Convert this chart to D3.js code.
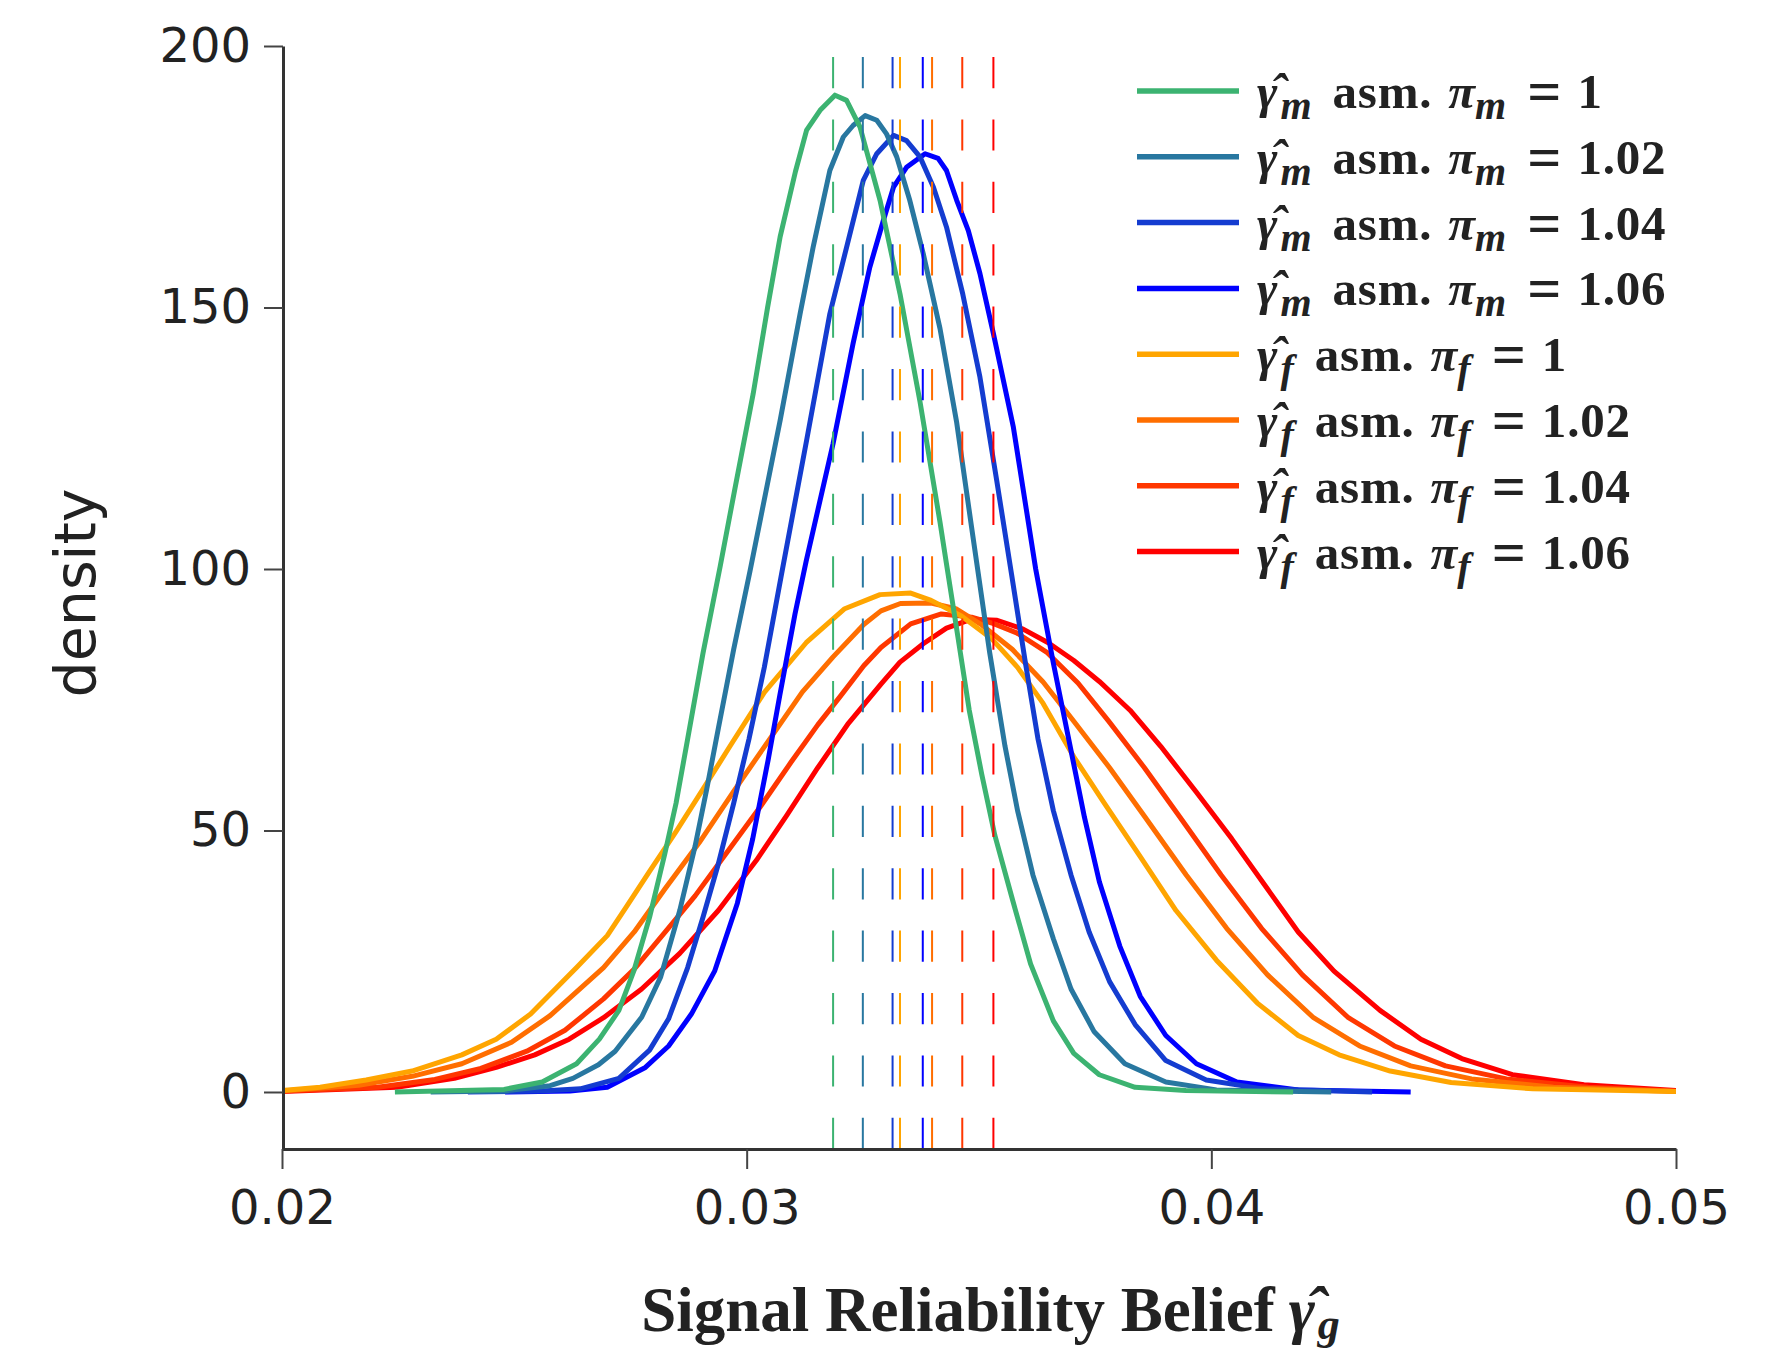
<!DOCTYPE html>
<html>
<head>
<meta charset="utf-8">
<script src="https://cdn.jsdelivr.net/npm/d3@7"></script>
<style>
  body { margin: 0; background: #fff; }
</style>
</head>
<body>
<div id="chart"></div>
<script>
const W = 1783, H = 1349;

const xTicks = [0.02, 0.03, 0.04, 0.05];
const yTicks = [0, 50, 100, 150, 200];

// legend order: m-series then f-series
const seriesSym = ["m", "m", "m", "m", "f", "f", "f", "f"];
const seriesPi = ["1", "1.02", "1.04", "1.06", "1", "1.02", "1.04", "1.06"];
const seriesColors = ["#3cb371", "#2877a0", "#143cd0", "#0000ff", "#ffa500", "#ff6e00", "#ff3700", "#ff0000"];

// dashed mean markers
const meansM = [0.03186, 0.0325, 0.03314, 0.03379];
const meansF = [0.0333, 0.03399, 0.03464, 0.03531];

// density curves [x, density]
const densM100 = [[0.02243,0],[0.02478,0.5],[0.0256,1.9],[0.02634,5.4],[0.02683,10.1],[0.02725,15.6],[0.02757,23.1],[0.02791,33.4],[0.02824,45.6],[0.02848,55.2],[0.02873,67.5],[0.02906,83.9],[0.02943,100.5],[0.02975,115.5],[0.03014,133.5],[0.03045,150],[0.03072,163.5],[0.03105,176],[0.03129,183.9],[0.03158,187.7],[0.0319,190.6],[0.03215,189.6],[0.03244,184.5],[0.03287,170.5],[0.0333,152.6],[0.03373,132],[0.03416,109],[0.0343,101],[0.03452,88.5],[0.03479,73],[0.03506,60.7],[0.03534,49.1],[0.03572,36.8],[0.03611,24.5],[0.0366,13.6],[0.03704,7.4],[0.03759,3.3],[0.03836,0.9],[0.03945,0.3],[0.04176,0]];
const densM102 = [[0.0232,0],[0.0248,0.2],[0.02577,1.2],[0.02626,2.6],[0.02681,5.2],[0.02717,7.8],[0.02774,14.3],[0.02815,22],[0.02856,34.7],[0.02889,47.0],[0.02914,57.9],[0.02939,69.5],[0.02972,84.6],[0.03007,99.5],[0.03072,128.4],[0.03115,148.8],[0.03143,161.5],[0.03179,176.2],[0.03208,182.6],[0.03229,184.8],[0.03255,186.7],[0.0328,185.8],[0.03301,183.2],[0.03323,178.8],[0.03351,170.5],[0.0338,160.3],[0.03416,146],[0.03452,128],[0.03484,108],[0.03523,84],[0.03556,66.1],[0.03583,53.8],[0.03616,41.5],[0.0366,29.3],[0.03698,19.7],[0.03748,11.5],[0.03814,5.4],[0.03902,1.9],[0.04011,0.4],[0.04258,0]];
const densM104 = [[0.024,0],[0.0256,0.2],[0.02642,0.6],[0.02725,2.6],[0.02791,8],[0.02832,14],[0.02873,23.8],[0.02906,33.4],[0.02939,43.6],[0.02972,55.2],[0.03005,67.5],[0.03038,81.2],[0.03075,99],[0.03129,124.6],[0.03179,148.8],[0.03215,161.5],[0.03251,174.3],[0.0328,179.4],[0.03316,182.9],[0.03344,181.9],[0.03373,178.8],[0.03402,173],[0.0343,165.4],[0.03465,152.6],[0.03502,136.7],[0.03538,117],[0.0357,99],[0.036,82],[0.03627,67.5],[0.0366,53.8],[0.03698,41.5],[0.03737,30.6],[0.03781,21.1],[0.03836,12.9],[0.03902,6.0],[0.03989,2.3],[0.0411,0.6],[0.04346,0]];
const densM106 = [[0.0248,0],[0.0262,0.2],[0.027,0.9],[0.02782,4.7],[0.02832,8.8],[0.02881,14.9],[0.02931,23.1],[0.0298,36.1],[0.03013,48.4],[0.03046,63.4],[0.03071,75.7],[0.03104,91.4],[0.03128,101.5],[0.03186,124],[0.03229,143.1],[0.03265,157.7],[0.03294,166.6],[0.03316,173],[0.03344,176.8],[0.03384,179.4],[0.03412,178.5],[0.0343,176.2],[0.03452,170.5],[0.03477,164.7],[0.03502,156.5],[0.03531,145],[0.03574,127.1],[0.03622,100],[0.0366,82],[0.03693,67.5],[0.03727,52.5],[0.03759,40.2],[0.03803,27.9],[0.03847,18.3],[0.03902,10.8],[0.03968,5.4],[0.04055,1.9],[0.04187,0.4],[0.04429,0]];
const densF100 = [[0.02,0.3],[0.02082,0.9],[0.02181,2.3],[0.0228,4.0],[0.02387,7.1],[0.02461,10.1],[0.02535,14.9],[0.02634,23.8],[0.027,29.9],[0.02741,35.4],[0.02791,42.2],[0.02848,49.8],[0.02906,57.9],[0.02964,66.1],[0.03038,76.4],[0.03128,85.9],[0.03211,92.4],[0.03287,95.1],[0.03353,95.4],[0.03397,94],[0.03462,91],[0.03528,86.6],[0.03583,81.2],[0.03638,74.3],[0.03704,64.1],[0.0377,55.2],[0.03847,45.0],[0.03924,34.7],[0.04011,25.2],[0.04099,17.0],[0.04187,10.8],[0.04275,7.1],[0.04385,4.0],[0.04516,1.8],[0.04692,0.6],[0.05,0.1]];
const densF102 = [[0.02,0.2],[0.02165,1.3],[0.0228,3.0],[0.02387,5.4],[0.02494,9.5],[0.02577,14.6],[0.02692,23.8],[0.02758,30.6],[0.02824,38.8],[0.02898,47.7],[0.02972,57.5],[0.03038,66],[0.0312,76.5],[0.03186,83.2],[0.03252,89.4],[0.03289,92],[0.03331,93.4],[0.03397,93.5],[0.0345,92.4],[0.03506,89.3],[0.03572,84.6],[0.03638,78.4],[0.03704,70.9],[0.03781,62.0],[0.03858,52.5],[0.03946,41.5],[0.04033,31.3],[0.04121,22.4],[0.0422,14.2],[0.04319,8.8],[0.04429,5.0],[0.0456,2.5],[0.04736,0.9],[0.05,0.1]];
const densF104 = [[0.02,0.2],[0.02206,0.9],[0.02329,2.4],[0.02428,4.5],[0.02527,7.8],[0.02609,11.8],[0.02692,17.8],[0.02758,23.5],[0.02824,30.5],[0.02889,37.5],[0.02955,45.5],[0.03029,54.5],[0.03095,63],[0.03153,70.2],[0.03201,75.6],[0.03252,81.5],[0.03289,85],[0.03353,89.5],[0.03419,91.4],[0.03484,90.8],[0.0353,89.6],[0.03581,87.8],[0.03647,84],[0.03713,78.2],[0.03779,70.9],[0.03856,62],[0.03933,52.5],[0.04021,41.5],[0.04108,31.3],[0.04196,22.4],[0.04295,14.2],[0.04394,8.8],[0.04504,5.0],[0.04635,2.5],[0.04811,0.9],[0.05,0.2]];
const densF106 = [[0.02,0.1],[0.02247,0.9],[0.02371,2.6],[0.02461,4.7],[0.02544,7.1],[0.02618,10.1],[0.02692,14.2],[0.02774,19.7],[0.02856,26.5],[0.02939,34.7],[0.03021,44.3],[0.03087,53],[0.03153,62],[0.03219,70.5],[0.03289,78],[0.0333,82.2],[0.0338,85.7],[0.0343,88.7],[0.03484,90.4],[0.03539,90.2],[0.03595,88.5],[0.03649,85.9],[0.03704,82.5],[0.03759,78.5],[0.03825,73.0],[0.03891,66.1],[0.03968,57.3],[0.04044,48.4],[0.04121,38.8],[0.04187,30.6],[0.04264,23.1],[0.04363,15.6],[0.04451,10.1],[0.04539,6.4],[0.04648,3.3],[0.04802,1.4],[0.05,0.3]];

const curves = [densM100, densM102, densM104, densM106, densF100, densF102, densF104, densF106];
const means = meansM.concat(meansF);

const x = d3.scaleLinear().domain([0.02, 0.05]).range([282, 1676]);
const y = d3.scaleLinear().domain([-10.9, 200]).range([1149, 46]);

const svg = d3.select("#chart").append("svg")
  .attr("width", W)
  .attr("height", H)
  .style("background", "#fff");

svg.append("defs").append("clipPath").attr("id", "plotclip")
  .append("rect")
  .attr("x", x.range()[0]).attr("y", y.range()[1])
  .attr("width", x.range()[1] - x.range()[0])
  .attr("height", y.range()[0] - y.range()[1]);

const plot = svg.append("g").attr("clip-path", "url(#plotclip)");

// curves, last legend entry drawn first
const line = d3.line().x(d => x(d[0])).y(d => y(d[1]));
d3.range(curves.length - 1, -1, -1).forEach(i => {
  plot.append("path")
    .datum(curves[i])
    .attr("fill", "none")
    .attr("stroke", seriesColors[i])
    .attr("stroke-width", 5)
    .attr("stroke-linejoin", "round")
    .attr("d", line);
});

// dashed mean lines, drawn bottom -> top
means.forEach((m, i) => {
  plot.append("line")
    .attr("x1", x(m)).attr("x2", x(m))
    .attr("y1", y(-10.9)).attr("y2", y(200))
    .attr("stroke", seriesColors[i])
    .attr("stroke-width", 2)
    .attr("stroke-dasharray", "31.2,31.2");
});

// axes
const tickFont = "DejaVu Sans";
const yAxis = svg.append("g")
  .attr("transform", "translate(283,0)")
  .call(d3.axisLeft(y).tickValues(yTicks).tickSize(19).tickSizeOuter(0).tickPadding(13));
const xAxis = svg.append("g")
  .attr("transform", `translate(0,${y(-10.9)})`)
  .call(d3.axisBottom(x).tickValues(xTicks).tickFormat(d3.format(".2f")).tickSize(20).tickSizeOuter(0).tickPadding(21));

[yAxis, xAxis].forEach(a => {
  a.select(".domain").attr("stroke", "#333").attr("stroke-width", 3);
  a.selectAll(".tick line").attr("stroke", "#444").attr("stroke-width", 2);
  a.selectAll(".tick text")
    .attr("font-family", tickFont)
    .attr("font-size", 48)
    .attr("fill", "#222");
});

// y label
svg.append("text")
  .attr("transform", "translate(95,593) rotate(-90)")
  .attr("text-anchor", "middle")
  .attr("font-family", tickFont)
  .attr("font-size", 57)
  .attr("fill", "#222")
  .text("density");

// legend
const legend = svg.append("g");
const legFs = 49, subFs = 40, subDy = 11;
seriesColors.forEach((c, i) => {
  const ly = 91 + i * 65.8;
  legend.append("line")
    .attr("x1", 1137).attr("x2", 1239)
    .attr("y1", ly).attr("y2", ly)
    .attr("stroke", c)
    .attr("stroke-width", 5.5);
  const t = legend.append("text")
    .attr("x", 1257).attr("y", ly + 17)
    .attr("font-family", "Liberation Serif")
    .attr("font-weight", "bold")
    .attr("font-size", legFs)
    .attr("fill", "#222");
  t.append("tspan").attr("font-style", "italic").text("γ\u0302");
  t.append("tspan").attr("font-style", "italic").attr("font-size", subFs).attr("dx", 3).attr("dy", subDy).text(seriesSym[i]);
  t.append("tspan").attr("dy", -subDy).attr("dx", 21).attr("letter-spacing", 0.8).text("asm.");
  t.append("tspan").attr("dx", 16).attr("font-style", "italic").text("π");
  t.append("tspan").attr("font-style", "italic").attr("font-size", subFs).attr("dy", subDy).text(seriesSym[i]);
  t.append("tspan").attr("dy", -subDy + 3).attr("dx", 21).attr("font-size", 60).text("=");
  t.append("tspan").attr("dy", -3).attr("dx", 16).attr("letter-spacing", 0.8).text(seriesPi[i]);
});

// x label
const xt = svg.append("text")
  .attr("y", 1331)
  .attr("font-family", "Liberation Serif")
  .attr("font-weight", "bold")
  .attr("font-size", 63)
  .attr("fill", "#222");
xt.append("tspan").text("Signal Reliability Belief");
xt.append("tspan").attr("dx", 14).attr("font-style", "italic").text("γ\u0302");
xt.append("tspan").attr("font-style", "italic").attr("font-size", 44).attr("dx", 3).attr("dy", 8).text("g");
const xtw = xt.node().getComputedTextLength();
xt.attr("x", 982 - xtw / 2);
</script>
</body>
</html>
